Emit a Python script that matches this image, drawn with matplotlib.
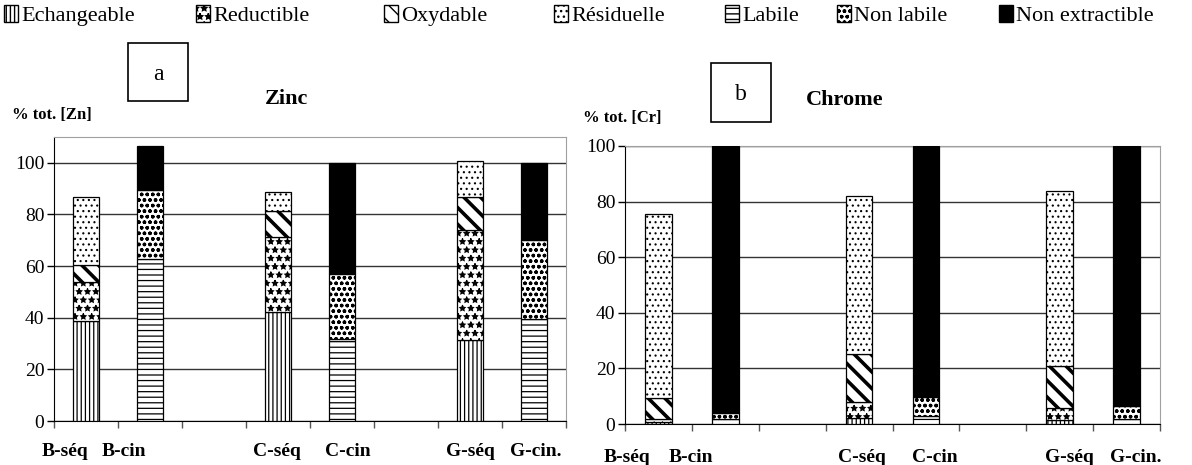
# Fractionnement Zn / Cr : extractions sequentielles vs cinetiques
import numpy as np
import matplotlib
matplotlib.use('Agg')
import matplotlib.pyplot as plt
from matplotlib.patches import Patch, Rectangle
from matplotlib.transforms import ScaledTranslation

plt.rcParams['font.family'] = ['Liberation Serif', 'DejaVu Serif']

# categories (8 slots, 2 empty)
slot_labels = ['B-séq', 'B-cin', '', 'C-séq', 'C-cin', '', 'G-séq', 'G-cin.']
seq_slots = [0, 3, 6]
cin_slots = [1, 4, 7]

# Zinc (% tot.) - sequential
zn_echangeable = [38.7, 42.2, 31.2]
zn_reductible = [15.1, 29.0, 42.8]
zn_oxydable = [6.5, 10.0, 12.7]
zn_residuelle = [26.5, 7.6, 13.9]
# Zinc - kinetic
zn_labile = [62.8, 31.9, 39.6]
zn_non_labile = [26.5, 25.1, 30.6]
zn_non_extractible = [17.2, 43.0, 29.8]

# Chrome (% tot.) - sequential
cr_echangeable = [0.8, 2.0, 1.4]
cr_reductible = [0.9, 5.8, 4.5]
cr_oxydable = [7.8, 17.3, 14.9]
cr_residuelle = [66.0, 56.8, 62.9]
# Chrome - kinetic
cr_labile = [1.8, 3.0, 1.8]
cr_non_labile = [2.0, 6.8, 4.7]
cr_non_extractible = [96.2, 90.2, 93.5]

legend_names = ['Echangeable', 'Reductible', 'Oxydable', 'Résiduelle',
                'Labile', 'Non labile', 'Non extractible']
legend_x_px = [2, 194, 382, 552, 723, 835, 997]

# hatch style per fraction: (hatch, facecolor, hatch linewidth)
styles = {
    'Echangeable': ('||||', 'white', 0.9),
    'Reductible': ('**', 'white', 0.8),
    'Oxydable': ('\\\\', 'white', 2.6),
    'Résiduelle': ('...', 'white', 0.8),
    'Labile': ('---', 'white', 0.9),
    'Non labile': ('ooo', 'white', 1.0),
    'Non extractible': ('', 'black', 1.0),
}


def set_hlw(patches, lw):
    for p in patches:
        if hasattr(p, 'set_hatch_linewidth'):
            p.set_hatch_linewidth(lw)


def stacked(ax, slots, names, series):
    bottom = np.zeros(len(slots))
    for name, vals in zip(names, series):
        h, fc, lw = styles[name]
        bars = ax.bar(slots, vals, width=0.4, bottom=bottom, color=fc,
                      edgecolor='black', linewidth=0.9, hatch=h, zorder=3)
        set_hlw(bars, lw)
        bottom = bottom + np.array(vals)


def style_axes(ax, ymax, label_shift_px, label_pad):
    ax.set_xlim(-0.5, 7.5)
    ax.set_ylim(0, ymax)
    ax.set_yticks(np.arange(0, 101, 20))
    ax.tick_params(axis='y', direction='out', length=5, width=1, labelsize=14, pad=2)
    ax.set_xticks(np.arange(-0.5, 8, 1))
    ax.set_xticklabels([])
    ax.tick_params(axis='x', which='major', direction='out', length=5, width=1, color='#555555')
    pos = [i for i, l in enumerate(slot_labels) if l]
    ax.set_xticks(pos, minor=True)
    ax.set_xticklabels([slot_labels[i] for i in pos], minor=True,
                       fontweight='bold', fontsize=14)
    ax.tick_params(axis='x', which='minor', length=0, pad=label_pad)
    fig = ax.figure
    for lab, dx in zip(ax.get_xticklabels(minor=True), label_shift_px):
        lab.set_transform(lab.get_transform() +
                          ScaledTranslation(dx / 100, 0, fig.dpi_scale_trans))
    ax.grid(axis='y', color='#333333', linewidth=1, zorder=0)
    ax.set_axisbelow(True)
    ax.spines['left'].set_color('black')
    ax.spines['bottom'].set_color('black')
    ax.spines['top'].set_color('#a0a0a0')
    ax.spines['right'].set_color('#a0a0a0')


fig = plt.figure(figsize=(11.92, 4.65), dpi=100)

seq_names = legend_names[:4]
cin_names = legend_names[4:]

# --- a : Zinc
ax1 = fig.add_axes([54 / 1192, 44 / 465, 512 / 1192, 284 / 465])
stacked(ax1, seq_slots, seq_names, [zn_echangeable, zn_reductible, zn_oxydable, zn_residuelle])
stacked(ax1, cin_slots, cin_names, [zn_labile, zn_non_labile, zn_non_extractible])
style_axes(ax1, 110, [-21, -26, -1, 6, 0, 2], 16)

# --- b : Chrome
ax2 = fig.add_axes([625 / 1192, 41 / 465, 535 / 1192, 278 / 465])
stacked(ax2, seq_slots, seq_names, [cr_echangeable, cr_reductible, cr_oxydable, cr_residuelle])
stacked(ax2, cin_slots, cin_names, [cr_labile, cr_non_labile, cr_non_extractible])
style_axes(ax2, 100, [-31, -34, 3, 9, 10, 9], 18)

# titles, axis captions, panel boxes
fig.text(287 / 1192, 1 - 99 / 465, 'Zinc', fontsize=16, fontweight='bold',
         ha='center', va='center')
fig.text(845 / 1192, 1 - 100 / 465, 'Chrome', fontsize=16, fontweight='bold',
         ha='center', va='center')
fig.text(12 / 1192, 1 - 115 / 465, '% tot. [Zn]', fontsize=12, fontweight='bold',
         ha='left', va='center')
fig.text(583 / 1192, 1 - 118 / 465, '% tot. [Cr]', fontsize=12, fontweight='bold',
         ha='left', va='center')

for (x0, y0, w, h, t) in [(128, 43, 60, 58, 'a'), (711, 63, 60, 59, 'b')]:
    fig.add_artist(Rectangle((x0 / 1192, 1 - (y0 + h) / 465), w / 1192, h / 465,
                             transform=fig.transFigure, facecolor='white',
                             edgecolor='black', linewidth=1.2))
    fig.text((x0 + w / 2) / 1192, 1 - (y0 + h / 2 + 2) / 465, t, fontsize=17,
             ha='center', va='center')

# legend: one entry per slot along the top
for name, xp in zip(legend_names, legend_x_px):
    h, fc, lw = styles[name]
    handle = Patch(facecolor=fc, edgecolor='black', hatch=h, linewidth=1.0, label=name)
    fig.legend(handles=[handle], loc='upper left',
               bbox_to_anchor=(xp / 1192, 0.994), frameon=False,
               fontsize=16, handlelength=0.6, handleheight=0.8,
               handletextpad=0.15, borderaxespad=0.0, borderpad=0.1)

fig.savefig('out.png', dpi=100)
